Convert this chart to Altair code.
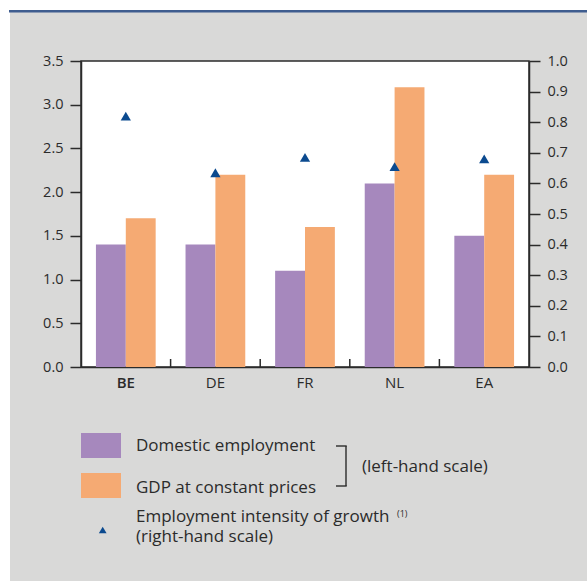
import altair as alt
import pandas as pd

# ---- data ----
countries = ["BE", "DE", "FR", "NL", "EA"]
employment = [1.4, 1.4, 1.1, 2.1, 1.5]
gdp = [1.7, 2.2, 1.6, 3.2, 2.2]
intensity = [0.82, 0.635, 0.685, 0.655, 0.68]
series_names = ["Domestic employment", "GDP at constant prices"]
left_ticks = [0.0, 0.5, 1.0, 1.5, 2.0, 2.5, 3.0, 3.5]
right_ticks = [0.0, 0.1, 0.2, 0.3, 0.4, 0.5, 0.6, 0.7, 0.8, 0.9, 1.0]

PURPLE = "#a688bd"
ORANGE = "#f5aa73"
BLUE = "#0b4a8f"
GRAY_BG = "#d9d9d8"
INK = "#2b2b2b"
FONT = "Open Sans"

W, H = 448, 306

bars_df = pd.DataFrame({
    "country": countries * 2,
    "series": [series_names[0]] * len(countries) + [series_names[1]] * len(countries),
    "value": employment + gdp,
})
tri_df = pd.DataFrame({"country": countries, "intensity": intensity})
sep_df = pd.DataFrame({"country": countries[1:]})

xscale = alt.Scale(domain=countries, paddingInner=0, paddingOuter=0)

bars = alt.Chart(bars_df).mark_bar().encode(
    x=alt.X("country:N", scale=xscale, sort=countries, title=None,
            axis=alt.Axis(ticks=False, domainColor=INK, domainWidth=1.5,
                          labelFont=FONT, labelFontSize=15, labelColor=INK,
                          labelPadding=8, labelAngle=0,
                          labelFontWeight=alt.condition("datum.value == 'BE'",
                                                        alt.value(600), alt.value(400)))),
    xOffset=alt.XOffset("series:N", sort=series_names,
                        scale=alt.Scale(paddingInner=0, paddingOuter=0.5)),
    y=alt.Y("value:Q", title=None,
            scale=alt.Scale(domain=[0, 3.5], nice=False),
            axis=alt.Axis(orient="left", values=left_ticks, format=".1f",
                          tickSize=11, tickColor=INK, tickWidth=1.5,
                          domainColor=INK, domainWidth=1.5, grid=False,
                          labelFont=FONT, labelFontSize=14.5, labelColor=INK,
                          labelPadding=7)),
    color=alt.Color("series:N", sort=series_names,
                    scale=alt.Scale(domain=series_names, range=[PURPLE, ORANGE]),
                    legend=None),
)

seps = alt.Chart(sep_df).mark_rule(color=INK, strokeWidth=1.5).encode(
    x=alt.X("country:N", scale=xscale, sort=countries, bandPosition=0),
    y=alt.value(H - 8), y2=alt.value(H),
)

tris = alt.Chart(tri_df).mark_point(shape="triangle-up", filled=True, opacity=1,
                                    color=BLUE, size=105).encode(
    x=alt.X("country:N", scale=xscale, sort=countries),
    y=alt.Y("intensity:Q", title=None,
            scale=alt.Scale(domain=[0, 1], nice=False),
            axis=alt.Axis(orient="right", values=right_ticks, format=".1f",
                          tickSize=11, tickColor=INK, tickWidth=1.5,
                          domainColor=INK, domainWidth=1.5, grid=False,
                          labelFont=FONT, labelFontSize=14.5, labelColor=INK,
                          labelPadding=7)),
)

# ---- decoration outside the plot: white top band, blue rule, white left strip ----
one = pd.DataFrame({"k": [0]})
top_white = alt.Chart(one).mark_rect(color="white").encode(
    x=alt.value(-81), x2=alt.value(W + 58), y=alt.value(-61), y2=alt.value(-50))
left_white = alt.Chart(one).mark_rect(color="white").encode(
    x=alt.value(-81), x2=alt.value(-71), y=alt.value(-61), y2=alt.value(H + 214))
blue_rule = alt.Chart(one).mark_rule(color="#3f5d8f", strokeWidth=2.6).encode(
    x=alt.value(-72), x2=alt.value(W + 58), y=alt.value(-49.7))

# ---- custom legend ----
leg_rect1 = alt.Chart(one).mark_rect(color=PURPLE).encode(
    x=alt.value(0), x2=alt.value(40), y=alt.value(372), y2=alt.value(397))
leg_rect2 = alt.Chart(one).mark_rect(color=ORANGE).encode(
    x=alt.value(0), x2=alt.value(40), y=alt.value(412), y2=alt.value(437))
txt = dict(font=FONT, fontSize=17, color=INK, align="left", baseline="alphabetic")
leg_t1 = alt.Chart(one).mark_text(text=series_names[0], **txt).encode(
    x=alt.value(55), y=alt.value(389.5))
leg_t2 = alt.Chart(one).mark_text(text=series_names[1], **txt).encode(
    x=alt.value(55), y=alt.value(431.5))
leg_t3 = alt.Chart(one).mark_text(text="(left-hand scale)", **txt).encode(
    x=alt.value(281), y=alt.value(410.5))
leg_t4 = alt.Chart(one).mark_text(
    text=["Employment intensity of growth", "(right-hand scale)"],
    lineHeight=20.5, **txt).encode(x=alt.value(55), y=alt.value(460.5))
leg_sup = alt.Chart(one).mark_text(text="(1)", font=FONT, fontSize=9, color=INK,
                                   align="left", baseline="alphabetic").encode(
    x=alt.value(316), y=alt.value(455.5))
leg_tri = alt.Chart(one).mark_point(shape="triangle-up", filled=True, opacity=1,
                                    color=BLUE, size=60).encode(
    x=alt.value(21.7), y=alt.value(469))
br_v = alt.Chart(one).mark_rule(color=INK, strokeWidth=1.4).encode(
    x=alt.value(265), y=alt.value(385), y2=alt.value(425))
br_t = alt.Chart(one).mark_rule(color=INK, strokeWidth=1.4).encode(
    x=alt.value(255), x2=alt.value(265.7), y=alt.value(385))
br_b = alt.Chart(one).mark_rule(color=INK, strokeWidth=1.4).encode(
    x=alt.value(255), x2=alt.value(265.7), y=alt.value(425))

chart = alt.layer(
    top_white, left_white, blue_rule,
    bars, seps, tris,
    leg_rect1, leg_rect2, leg_t1, leg_t2, leg_t3, leg_t4, leg_sup, leg_tri,
    br_v, br_t, br_b,
).resolve_scale(
    y="independent", color="independent"
).properties(
    width=W, height=H,
    autosize=alt.AutoSizeParams(type="none"),
    padding={"left": 81, "top": 61, "right": 58, "bottom": 214},
    background=GRAY_BG,
).configure_view(
    fill="white", stroke=INK, strokeWidth=1.5
)

chart.save("out.html", embed_options={"renderer": "svg", "actions": False})
